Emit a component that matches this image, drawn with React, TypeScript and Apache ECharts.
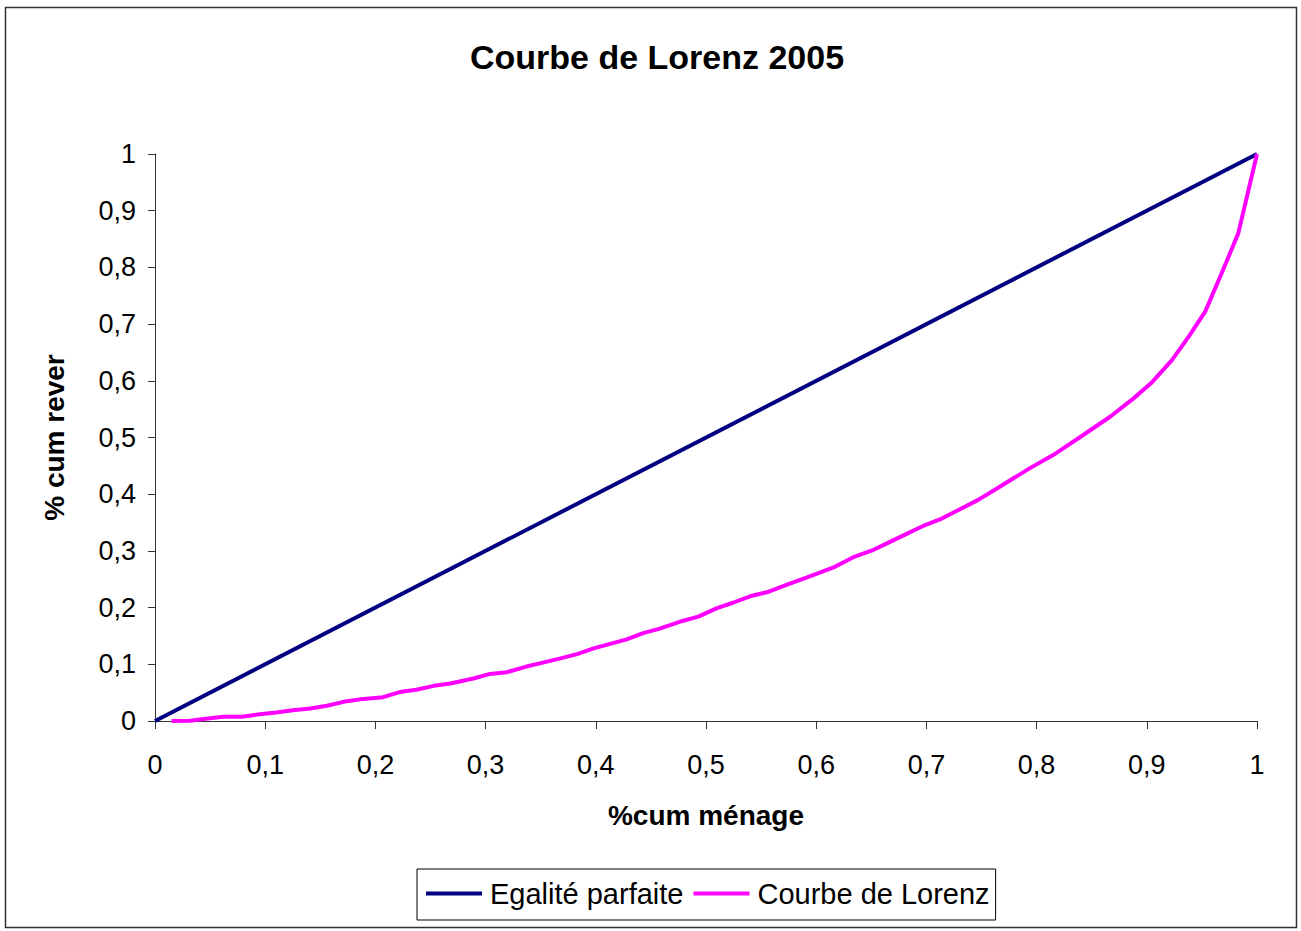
import React, { useEffect, useRef } from "react";
import * as echarts from "echarts";

const equalityX = [0, 1];
const equalityY = [0, 1];

const lorenzX = [
  0.015, 0.032, 0.044, 0.062, 0.079, 0.095, 0.11, 0.125, 0.141, 0.156, 0.174, 0.189, 0.207, 0.222,
  0.237, 0.253, 0.268, 0.289, 0.304, 0.319, 0.337, 0.352, 0.367, 0.383, 0.398, 0.413, 0.428, 0.443,
  0.458, 0.476, 0.493, 0.51, 0.525, 0.54, 0.557, 0.573, 0.591, 0.617, 0.635, 0.652, 0.667, 0.682,
  0.697, 0.714, 0.73, 0.747, 0.764, 0.779, 0.794, 0.815, 0.842, 0.867, 0.888, 0.904, 0.923, 0.938,
  0.953, 0.968, 0.983, 1.0,
];
const lorenzY = [
  0, 0.0005, 0.0035, 0.0076, 0.0076, 0.012, 0.015, 0.019, 0.022, 0.027, 0.035, 0.039, 0.042, 0.051,
  0.055, 0.062, 0.066, 0.075, 0.083, 0.086, 0.096, 0.103, 0.11, 0.118, 0.128, 0.136, 0.144, 0.155,
  0.163, 0.175, 0.184, 0.199, 0.209, 0.22, 0.228, 0.24, 0.253, 0.272, 0.29, 0.302, 0.316, 0.33,
  0.344, 0.357, 0.373, 0.39, 0.41, 0.428, 0.446, 0.469, 0.504, 0.537, 0.569, 0.596, 0.637, 0.678,
  0.722, 0.79, 0.86, 1.0,
];

const seriesNames = ["Egalité parfaite", "Courbe de Lorenz"];
const titleText = "Courbe de Lorenz 2005";
const xAxisName = "%cum ménage";
const yAxisName = "% cum rever";

const FONT = "'Liberation Sans', Arial, sans-serif";

const fmt = (v: number) => String(Math.round(v * 10) / 10).replace(".", ",");

export default function App() {
  const ref = useRef<HTMLDivElement>(null);
  useEffect(() => {
    if (!ref.current) return;
    const chart = echarts.init(ref.current, undefined, { renderer: "svg" });
    chart.setOption({
      animation: false,
      backgroundColor: "#ffffff",
      textStyle: { fontFamily: FONT },
      title: {
        text: titleText,
        left: 652,
        top: 35,
        textAlign: "center",
        textStyle: { fontFamily: FONT, fontSize: 34, fontWeight: "bold", color: "#000" },
      },
      graphic: [
        {
          type: "rect",
          shape: { x: 5.5, y: 7.5, width: 1291, height: 920 },
          style: { fill: "none", stroke: "#333", lineWidth: 1.5 },
          silent: true,
        },
      ],
      legend: {
        left: 417,
        top: 869,
        orient: "horizontal",
        padding: [10, 6, 12, 9],
        itemGap: 10,
        itemWidth: 56,
        itemHeight: 4,
        icon: "rect",
        borderColor: "#000",
        borderWidth: 1,
        textStyle: { fontFamily: FONT, fontSize: 29, color: "#000", padding: [0, 0, 0, 3] },
        data: seriesNames,
      },
      grid: { left: 155, right: 44, top: 154, bottom: 210, containLabel: false },
      xAxis: {
        type: "value",
        min: 0,
        max: 1,
        interval: 0.1,
        name: xAxisName,
        nameLocation: "middle",
        nameGap: 80,
        nameTextStyle: { fontFamily: FONT, fontSize: 28, fontWeight: "bold", color: "#000" },
        axisLine: { show: true, onZero: false, lineStyle: { color: "#333", width: 1 } },
        axisTick: { show: true, inside: false, length: 8, lineStyle: { color: "#333" } },
        axisLabel: { margin: 30, fontFamily: FONT, fontSize: 27, color: "#000", formatter: fmt },
        splitLine: { show: false },
      },
      yAxis: {
        type: "value",
        min: 0,
        max: 1,
        interval: 0.1,
        name: yAxisName,
        nameLocation: "middle",
        nameGap: 87,
        nameTextStyle: { fontFamily: FONT, fontSize: 28, fontWeight: "bold", color: "#000" },
        axisLine: { show: true, onZero: false, lineStyle: { color: "#333", width: 1 } },
        axisTick: { show: true, inside: false, length: 7, lineStyle: { color: "#333" } },
        axisLabel: { margin: 19, fontFamily: FONT, fontSize: 27, color: "#000", formatter: fmt },
        splitLine: { show: false },
      },
      series: [
        {
          name: seriesNames[0],
          type: "line",
          data: equalityX.map((x, i) => [x, equalityY[i]]),
          showSymbol: false,
          symbol: "none",
          lineStyle: { color: "#000080", width: 4 },
          itemStyle: { color: "#000080" },
        },
        {
          name: seriesNames[1],
          type: "line",
          data: lorenzX.map((x, i) => [x, lorenzY[i]]),
          showSymbol: false,
          symbol: "none",
          lineStyle: { color: "#FF00FF", width: 4 },
          itemStyle: { color: "#FF00FF" },
        },
      ],
    });
    return () => chart.dispose();
  }, []);
  return (
    <div
      ref={ref}
      style={{ position: "absolute", left: 0, top: 0, width: 1301, height: 931, background: "#fff" }}
    />
  );
}
